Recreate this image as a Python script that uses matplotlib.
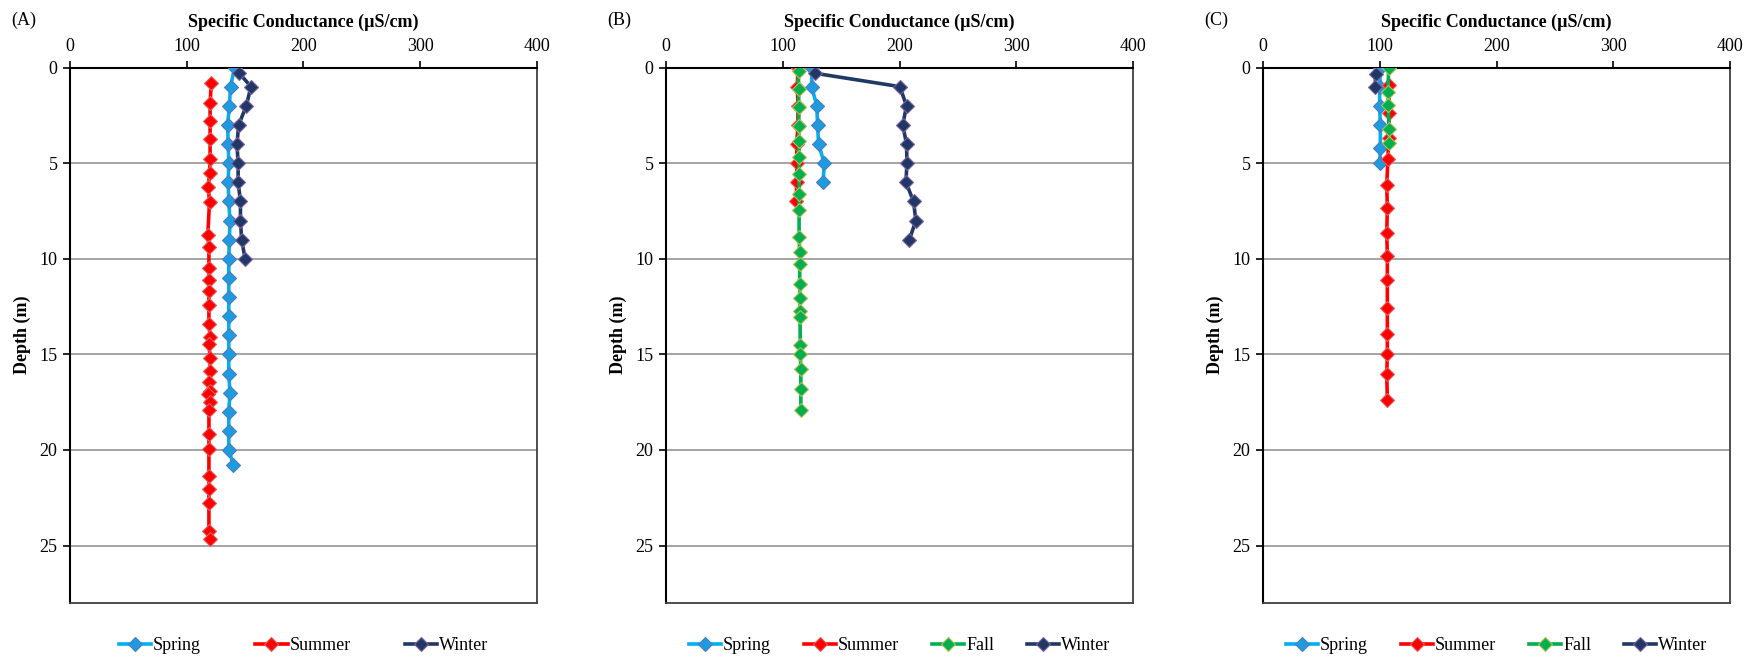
import numpy as np
import matplotlib.pyplot as plt

plt.rcParams['font.family'] = ['Liberation Serif', 'DejaVu Serif']

# ---- panel A ----
a_spring_d = [0, 1, 2, 3, 4, 5, 6, 7, 8, 9, 10, 11, 12, 13, 14, 15, 16, 17, 18, 19, 20, 20.8]
a_spring_x = [141, 137.5, 136.5, 135, 135.5, 136, 135.5, 136, 137, 136.5, 136, 136, 136,
              136, 136, 136, 136, 137, 136, 136, 136, 140]
a_summer_d = [0.83, 1.84, 2.82, 3.74, 4.77, 5.5, 6.27, 7.04, 8.77, 9.38, 10.5, 11.1, 11.7,
              12.4, 13.4, 14.1, 14.45, 15.2, 15.85, 16.45, 16.9, 17.05, 17.5, 17.9, 19.15,
              19.95, 21.35, 22.05, 22.75, 24.25, 24.65]
a_summer_x = [121, 120, 120, 120, 120, 119.5, 118.5, 119.5, 118, 119, 119, 119, 119, 119,
              119, 120, 119, 120, 120, 119, 119.5, 118.5, 119.5, 119, 119, 119, 119, 119,
              119, 119, 120]
a_winter_d = [0.3, 1, 2, 3, 4, 5, 6, 7, 8, 9, 10]
a_winter_x = [145, 155, 151, 144.5, 143, 144, 144, 146, 146, 147, 150]

# ---- panel B ----
b_spring_d = [0, 1, 2, 3, 4, 5, 6]
b_spring_x = [125, 124.7, 129.2, 129.8, 130.7, 135.5, 134.6]
b_summer_d = [0, 1, 2, 3, 4, 5, 6, 7]
b_summer_x = [113, 112.5, 113, 113, 112, 112, 112, 111.5]
b_fall_d = [0.17, 1.14, 2.05, 3.06, 3.83, 4.67, 5.58, 6.62, 7.46, 8.86, 9.64, 10.3, 11.3,
            12.03, 12.75, 13.05, 14.53, 15.0, 15.75, 16.8, 17.9]
b_fall_x = [113.5, 113.5, 113.8, 113.8, 113.8, 114, 114, 114, 114, 114, 114.5, 114.5,
            114.5, 114.8, 114.8, 114.8, 115, 115, 115.5, 115.5, 115.5]
b_winter_d = [0.3, 1, 2, 3, 4, 5, 6, 7, 8, 9]
b_winter_x = [127.5, 200.3, 206, 202.8, 206, 206.4, 205.5, 212, 214, 208.5]

# ---- panel C ----
c_spring_d = [0, 1, 2, 3, 4.2, 5]
c_spring_x = [100.5, 100, 99.9, 100.5, 100.5, 100]
c_summer_d = [0.92, 2.37, 3.71, 4.81, 6.12, 7.34, 8.63, 9.85, 11.13, 12.58, 13.92, 14.97,
              16.05, 17.36]
c_summer_x = [108, 108, 107.5, 107, 106, 106.5, 106, 106.5, 106.5, 106.5, 106.5, 106.5,
              106, 106.5]
c_fall_d = [0, 1.26, 1.96, 3.24, 3.94]
c_fall_x = [107.6, 107.1, 107.1, 108.2, 108.2]
c_winter_d = [0.34, 1.04]
c_winter_x = [96.5, 96]

STYLE = {
    'Spring': dict(color='#00B0F0', mfc='#1E9BE0', mec='#4A7EBB'),
    'Summer': dict(color='#FF0000', mfc='#FF0000', mec='#E06060'),
    'Fall': dict(color='#00B050', mfc='#00B050', mec='#B5C050'),
    'Winter': dict(color='#1F3864', mfc='#1F3864', mec='#7F60A8'),
}

panels = [
    ('(A)', [('Spring', a_spring_x, a_spring_d), ('Summer', a_summer_x, a_summer_d),
             ('Winter', a_winter_x, a_winter_d)]),
    ('(B)', [('Spring', b_spring_x, b_spring_d), ('Summer', b_summer_x, b_summer_d),
             ('Fall', b_fall_x, b_fall_d), ('Winter', b_winter_x, b_winter_d)]),
    ('(C)', [('Spring', c_spring_x, c_spring_d), ('Summer', c_summer_x, c_summer_d),
             ('Fall', c_fall_x, c_fall_d), ('Winter', c_winter_x, c_winter_d)]),
]

W, H = 1764, 659
fig = plt.figure(figsize=(W / 100, H / 100), dpi=100)
lefts = [70, 666, 1263]
top, bottom, width = 67.5, 603, 467
FS = 13

for left, (tag, series) in zip(lefts, panels):
    ax = fig.add_axes([left / W, 1 - bottom / H, width / W, (bottom - top) / H])
    handles = []
    for name, xs, ds in series:
        st = STYLE[name]
        h, = ax.plot(xs, ds, color=st['color'], lw=2.6, marker='D', ms=6.8,
                     mfc=st['mfc'], mec=st['mec'], mew=0.8, label=name, zorder=3)
        handles.append(h)
    ax.set_xlim(0, 400)
    ax.set_ylim(28, 0)
    ax.set_xticks([0, 100, 200, 300, 400])
    ax.set_yticks([0, 5, 10, 15, 20, 25])
    ax.xaxis.tick_top()
    ax.xaxis.set_label_position('top')
    ax.tick_params(axis='both', labelsize=FS, direction='out', length=5, width=1.2,
                   pad=4, colors='black')
    ax.yaxis.grid(True, color='#8C8C8C', lw=1.1)
    ax.set_axisbelow(True)
    for s in ['left', 'top']:
        ax.spines[s].set_color('black')
        ax.spines[s].set_linewidth(1.5)
    for s in ['right', 'bottom']:
        ax.spines[s].set_color('#404040')
        ax.spines[s].set_linewidth(1.3)
    ax.set_xlabel('Specific Conductance (µS/cm)', fontsize=FS, fontweight='bold',
                  labelpad=8)
    ax.set_ylabel('Depth (m)', fontsize=FS, fontweight='bold', labelpad=6)
    fig.text((left - 59) / W, 1 - 20 / H, tag, fontsize=FS, ha='left', va='center')
    gap = 3.0 if len(handles) == 3 else 1.8
    ax.legend(handles=handles, loc='center', bbox_to_anchor=(0.5, (bottom - 646) / (bottom - top)),
              ncol=len(handles), frameon=False, fontsize=FS, handlelength=1.8,
              handletextpad=0.1, columnspacing=gap, borderaxespad=0)

fig.savefig('out.png', dpi=100)
